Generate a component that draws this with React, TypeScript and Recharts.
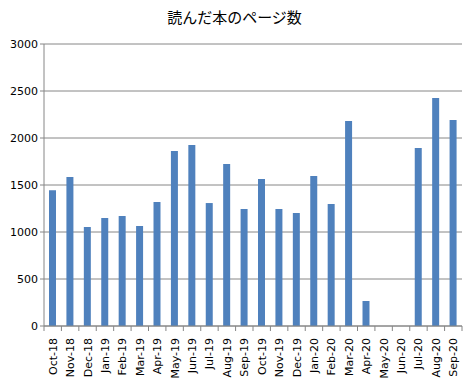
import { BarChart, Bar, XAxis, YAxis, CartesianGrid } from 'recharts';

const months = [
  'Oct-18', 'Nov-18', 'Dec-18', 'Jan-19', 'Feb-19', 'Mar-19', 'Apr-19', 'May-19',
  'Jun-19', 'Jul-19', 'Aug-19', 'Sep-19', 'Oct-19', 'Nov-19', 'Dec-19', 'Jan-20',
  'Feb-20', 'Mar-20', 'Apr-20', 'May-20', 'Jun-20', 'Jul-20', 'Aug-20', 'Sep-20'
];
const pages = [
  1445, 1585, 1053, 1149, 1170, 1064, 1319, 1862,
  1926, 1308, 1723, 1245, 1564, 1245, 1202, 1596,
  1298, 2181, 266, 0, 0, 1894, 2426, 2191
];
const yTicks = [0, 500, 1000, 1500, 2000, 2500, 3000];

const data = months.map((m, i) => ({ month: m, pages: pages[i] }));

const W = 469;
const H = 381;
const LEFT = 44;
const RIGHT = 7;
const band = (W - LEFT - RIGHT) / months.length;
const GRID = '#868686';

const MonthTick = ({ x, y, payload, index }: any) => {
  const half = band / 2;
  return (
    <g>
      <line x1={x - half} y1={y - 8} x2={x - half} y2={y - 3} stroke={GRID} />
      {index === months.length - 1 && (
        <line x1={x + half} y1={y - 8} x2={x + half} y2={y - 3} stroke={GRID} />
      )}
      <text
        x={0}
        y={0}
        transform={`translate(${x + 4},${y + 4}) rotate(-90)`}
        textAnchor="end"
        fontSize={11}
        fontFamily="DejaVu Sans, Verdana, sans-serif"
        fill="#000"
      >
        {payload.value}
      </text>
    </g>
  );
};

const App = () => {
  return (
    <div style={{ position: 'absolute', left: 0, top: 0, width: W, height: H, background: '#fff' }}>
      <div
        style={{
          position: 'absolute',
          left: 0,
          top: 6,
          width: W,
          textAlign: 'center',
          fontSize: 15,
          fontFamily: '"Noto Sans CJK JP", sans-serif',
          color: '#000'
        }}
      >
        読んだ本のページ数
      </div>
      <BarChart
        width={W}
        height={H}
        data={data}
        margin={{ top: 44, right: RIGHT, left: 0, bottom: 0 }}
        barSize={7}
      >
        <CartesianGrid vertical={false} stroke={GRID} />
        <XAxis
          dataKey="month"
          interval={0}
          height={55}
          axisLine={{ stroke: GRID }}
          tickLine={false}
          tick={<MonthTick />}
        />
        <YAxis
          width={LEFT}
          domain={[0, 3000]}
          ticks={yTicks}
          axisLine={{ stroke: GRID }}
          tickLine={{ stroke: GRID }}
          tickSize={4}
          tick={{ fontSize: 11, fontFamily: 'DejaVu Sans, Verdana, sans-serif', fill: '#000' }}
        />
        <Bar dataKey="pages" fill="#4F81BD" isAnimationActive={false} />
      </BarChart>
    </div>
  );
};

export default App;
